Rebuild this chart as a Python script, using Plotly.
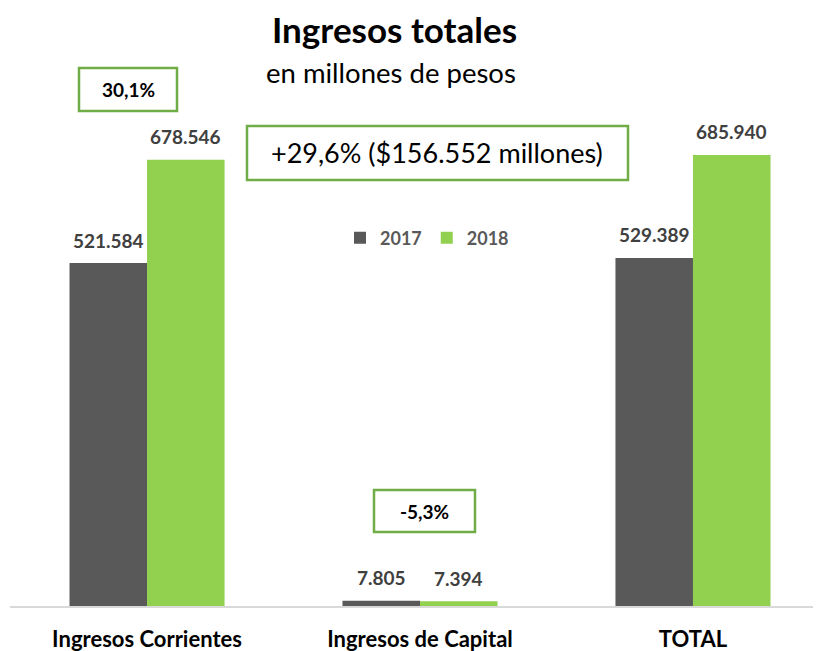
import plotly.graph_objects as go

categories = ["Ingresos Corrientes", "Ingresos de Capital", "TOTAL"]
years = ["2017", "2018"]
values_2017 = [521584, 7805, 529389]
values_2018 = [678546, 7394, 685940]
colors = {"2017": "#595959", "2018": "#92D050"}

OFF = 8  # page body margin
W, H = 821 - OFF, 651 - OFF
FONT = "Lato"

def px(x):
    return (x - OFF) / W

def py(y):
    return 1 - (y - OFF) / H

fig = go.Figure()
for yr, vals in zip(years, [values_2017, values_2018]):
    fig.add_trace(go.Bar(
        name=yr, x=categories, y=vals,
        marker=dict(color=colors[yr], line=dict(width=0)),
    ))

bar_px = 77.5
anns = []
for i, (yr, vals) in enumerate(zip(years, [values_2017, values_2018])):
    shift = -bar_px / 2 if i == 0 else bar_px / 2
    for c, v in zip(categories, vals):
        s = f"{v:,}".replace(",", ".")
        anns.append(dict(x=c, y=v, xref="x", yref="y", text=s, showarrow=False,
                         xshift=shift, yshift=23,
                         font=dict(family=FONT, size=19, color="#404040", weight="bold")))

boxes = [
    (79, 68, 177, 111, "30,1%", 19, "bold"),
    (247, 126, 628, 180, "+29,6% ($156.552 millones)", 27, "normal"),
    (374, 490, 475, 532, "-5,3%", 19, "bold"),
]
shapes = []
for x0, y0, x1, y1, t, fs, fw in boxes:
    shapes.append(dict(type="rect", xref="paper", yref="paper",
                       x0=px(x0), x1=px(x1), y0=py(y1), y1=py(y0),
                       line=dict(color="#70AD47", width=2.5), fillcolor="rgba(0,0,0,0)"))
    anns.append(dict(xref="paper", yref="paper", x=px((x0 + x1) / 2), y=py((y0 + y1) / 2),
                     text=t, showarrow=False, xanchor="center", yanchor="middle",
                     font=dict(family=FONT, size=fs, color="#000000", weight=fw)))

anns.append(dict(xref="paper", yref="paper", x=px(394), y=py(29), text="Ingresos totales",
                 showarrow=False, xanchor="center", yanchor="middle",
                 font=dict(family=FONT, size=35, color="#000000", weight="bold")))
anns.append(dict(xref="paper", yref="paper", x=px(391), y=py(73), text="en millones de pesos",
                 showarrow=False, xanchor="center", yanchor="middle",
                 font=dict(family=FONT, size=27.5, color="#000000")))

fig.update_layout(
    width=W, height=H,
    margin=dict(l=0, r=0, t=0, b=0),
    paper_bgcolor="white", plot_bgcolor="white",
    barmode="group", bargap=0.432, bargroupgap=0,
    annotations=anns, shapes=shapes,
    showlegend=True,
    legend=dict(orientation="h", x=px(427), y=py(238), xanchor="center", yanchor="middle",
                font=dict(family=FONT, size=18, color="#595959", weight="bold"),
                itemwidth=30, bgcolor="rgba(0,0,0,0)", traceorder="normal"),
    xaxis=dict(domain=[px(10), 1], range=[-0.502, 2.469],
               showline=True, linecolor="#D9D9D9", linewidth=1.5,
               showgrid=False, zeroline=False, ticks="", ticklabelstandoff=13,
               tickfont=dict(family=FONT, size=22, color="#000000", weight="bold")),
    yaxis=dict(domain=[py(606), py(100)], range=[0, 769582],
               showticklabels=False, showgrid=False, zeroline=False, showline=False),
)

fig.write_html("out.html")
